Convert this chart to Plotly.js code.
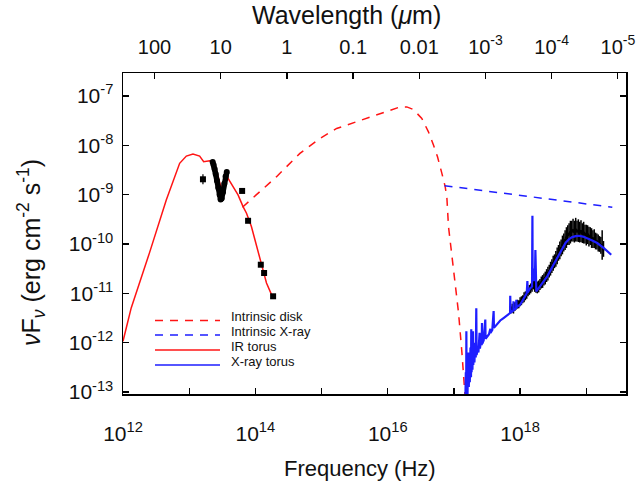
<!DOCTYPE html>
<html><head><meta charset="utf-8">
<script src="https://cdn.plot.ly/plotly-3.0.1.min.js"></script>
<style>body{margin:0;background:#fff}#chart{width:637px;height:488px}</style>
</head><body><div id="chart"></div>
<script>
// All values are log10(nu / Hz) and log10(nuFnu / erg cm^-2 s^-1)
const irTorusLogNu = [12.0, 12.124, 12.40, 12.654, 12.856, 12.957, 13.057, 13.158, 13.219, 13.31, 13.386, 13.48, 13.587, 13.663, 13.738, 13.814, 13.866, 13.94, 14.017, 14.093, 14.168, 14.244];
const irTorusLogF  = [-11.97, -11.295, -10.18, -9.107, -8.366, -8.218, -8.178, -8.218, -8.333, -8.313, -8.38, -8.85, -8.669, -8.838, -9.006, -9.242, -9.376, -9.646, -10.05, -10.455, -10.79, -11.026];

const diskLogNu = [13.805, 14.017, 14.32, 14.673, 14.774, 14.975, 15.228, 15.48, 15.733, 15.985, 16.187, 16.288, 16.388, 16.515, 16.615, 16.691, 16.752, 16.818, 16.868, 16.894, 16.918, 16.994, 17.07, 17.121, 17.16, 17.18];
const diskLogF  = [-9.255, -9.006, -8.636, -8.164, -8.063, -7.861, -7.659, -7.545, -7.424, -7.303, -7.222, -7.222, -7.275, -7.457, -7.727, -7.996, -8.232, -8.568, -8.838, -9.073, -9.646, -10.52, -11.396, -12.204, -12.945, -13.3];

const intrXLogNu = [16.858, 19.393];
const intrXLogF  = [-8.818, -9.255];

const xTorusLogNu = [17.17, 17.18, 17.185, 17.188, 17.192, 17.20, 17.205, 17.215, 17.22, 17.225, 17.235, 17.24, 17.25, 17.258, 17.262, 17.267, 17.275, 17.28, 17.288, 17.293, 17.30, 17.31, 17.32, 17.33, 17.338, 17.343, 17.36, 17.37, 17.38, 17.388, 17.393, 17.41, 17.42, 17.424, 17.429, 17.45, 17.474, 17.478, 17.50, 17.53, 17.55, 17.553, 17.58, 17.60, 17.605, 17.65, 17.70, 17.75, 17.80, 17.848, 17.851, 17.856, 17.898, 17.90, 17.905, 17.94, 17.943, 17.948, 18.0, 18.05, 18.10, 18.11, 18.115, 18.15, 18.18, 18.186, 18.19, 18.20, 18.21, 18.225, 18.231, 18.236, 18.245, 18.30, 18.35, 18.41, 18.50, 18.56, 18.62, 18.686, 18.74, 18.787, 18.84, 18.887, 18.95, 19.014, 19.09, 19.165, 19.266, 19.377];
const xTorusLogF  = [-13.4, -12.6, -13.3, -11.77, -13.2, -12.4, -13.1, -12.2, -12.34, -12.9, -12.3, -12.8, -12.1, -12.7, -11.73, -12.6, -12.0, -12.55, -11.77, -12.45, -12.1, -12.4, -12.0, -12.3, -11.30, -12.25, -12.1, -12.2, -12.0, -11.80, -12.12, -11.95, -12.05, -11.60, -12.02, -11.95, -11.53, -11.92, -11.87, -11.83, -11.72, -11.80, -11.74, -11.36, -11.70, -11.63, -11.55, -11.50, -11.45, -11.40, -11.05, -11.39, -11.35, -11.16, -11.34, -11.30, -11.13, -11.28, -11.23, -11.12, -11.00, -10.75, -10.98, -10.90, -10.86, -9.43, -10.70, -10.50, -10.75, -10.60, -10.12, -10.70, -10.96, -10.86, -10.76, -10.656, -10.43, -10.285, -10.12, -9.98, -9.90, -9.86, -9.84, -9.834, -9.85, -9.88, -9.93, -9.98, -10.083, -10.218];

// Black IR photometry (squares) and error half-widths in dex
const irPhotLogNu = [13.208, 13.80, 13.89, 14.082, 14.132, 14.268];
const irPhotLogF  = [-8.689, -8.925, -9.53, -10.42, -10.588, -11.06];
const irPhotErr   = [0.10, 0.04, 0.02, 0.02, 0.02, 0.02];

// Black IR spectrum (silicate feature)
const irSpecLogNu = [13.355, 13.37, 13.385, 13.40, 13.42, 13.44, 13.46, 13.475, 13.49, 13.51, 13.53, 13.55, 13.568];
const irSpecLogF  = [-8.34, -8.40, -8.48, -8.58, -8.72, -8.86, -9.00, -9.10, -9.08, -8.95, -8.78, -8.63, -8.54];

// Black X-ray spectrum and error half-widths in dex
const xrayLogNu = [17.86, 17.88, 17.90, 17.92, 17.94, 17.96, 17.98, 18.00, 18.02, 18.04, 18.06, 18.08, 18.10, 18.12, 18.14, 18.16, 18.18, 18.20, 18.22, 18.24, 18.26, 18.28, 18.30, 18.32, 18.34, 18.36, 18.38, 18.40, 18.42, 18.44, 18.46, 18.48, 18.50, 18.52, 18.54, 18.56, 18.58, 18.60, 18.62, 18.64, 18.66, 18.68, 18.70, 18.72, 18.74, 18.76, 18.78, 18.80, 18.82, 18.84, 18.86, 18.88, 18.90, 18.92, 18.94, 18.96, 18.98, 19.00, 19.02, 19.04, 19.06, 19.08, 19.10, 19.12, 19.14, 19.16, 19.18, 19.20, 19.22, 19.24, 19.26];
const xrayLogF  = [-11.33, -11.30, -11.33, -11.27, -11.25, -11.22, -11.22, -11.17, -11.15, -11.12, -11.08, -11.05, -11.01, -10.97, -10.93, -10.90, -10.86, -10.82, -10.85, -10.88, -10.88, -10.86, -10.82, -10.78, -10.76, -10.72, -10.69, -10.64, -10.60, -10.55, -10.50, -10.45, -10.39, -10.35, -10.30, -10.24, -10.18, -10.13, -10.08, -10.02, -9.97, -9.92, -9.87, -9.82, -9.80, -9.76, -9.74, -9.72, -9.75, -9.71, -9.74, -9.73, -9.76, -9.74, -9.78, -9.77, -9.80, -9.82, -9.81, -9.85, -9.84, -9.88, -9.90, -9.89, -9.94, -9.95, -9.98, -10.00, -10.03, -10.02, -10.10];
const xrayErr   = [0.08, 0.09, 0.08, 0.09, 0.08, 0.09, 0.08, 0.09, 0.09, 0.08, 0.10, 0.09, 0.10, 0.09, 0.10, 0.10, 0.11, 0.10, 0.12, 0.11, 0.12, 0.12, 0.11, 0.12, 0.13, 0.12, 0.13, 0.13, 0.14, 0.13, 0.14, 0.14, 0.15, 0.14, 0.16, 0.17, 0.16, 0.18, 0.17, 0.19, 0.18, 0.20, 0.21, 0.20, 0.22, 0.23, 0.21, 0.23, 0.22, 0.24, 0.21, 0.23, 0.21, 0.22, 0.20, 0.22, 0.19, 0.21, 0.19, 0.20, 0.18, 0.20, 0.18, 0.19, 0.17, 0.16, 0.17, 0.16, 0.17, 0.30, 0.16];

// Axis ticks
const freqTickExp = [12, 13, 14, 15, 16, 17, 18, 19];
const freqTickText = ['10<sup>12</sup>', ' ', '10<sup>14</sup>', ' ', '10<sup>16</sup>', ' ', '10<sup>18</sup>', ' '];
const waveTickMicron = [100, 10, 1, 0.1, 0.01, 1e-3, 1e-4, 1e-5];
const waveTickText = ['100', '10', '1', '0.1', '0.01', '10<sup>-3</sup>', '10<sup>-4</sup>', '10<sup>-5</sup>'];
const fluxTickExp = [-13, -12, -11, -10, -9, -8, -7];
const fluxTickText = ['10<sup>-13</sup>', '10<sup>-12</sup>', '10<sup>-11</sup>', '10<sup>-10</sup>', '10<sup>-9</sup>', '10<sup>-8</sup>', '10<sup>-7</sup>'];

const legendNames = ['Intrinsic disk', 'Intrinsic X-ray', 'IR torus', 'X-ray torus'];

const lin = a => a.map(v => Math.pow(10, v));
const errUp = (f, e) => f.map((v, i) => Math.pow(10, v) * (Math.pow(10, e[i]) - 1));
const errDn = (f, e) => f.map((v, i) => Math.pow(10, v) * (1 - Math.pow(10, -e[i])));
const C_MICRON = 2.998e14;

const RED = 'rgb(255,20,20)', BLUE = 'rgb(30,30,255)';
const DASH = '8px,7px';

const traces = [
  {x: lin(irTorusLogNu), y: lin(irTorusLogF), mode: 'lines', line: {color: RED, width: 1.5}, name: legendNames[2], showlegend: false},
  {x: lin(diskLogNu), y: lin(diskLogF), mode: 'lines', line: {color: RED, width: 1.5, dash: DASH}, name: legendNames[0], showlegend: false},
  {x: lin(intrXLogNu), y: lin(intrXLogF), mode: 'lines', line: {color: BLUE, width: 1.5, dash: DASH}, name: legendNames[1], showlegend: false},
  {x: lin(irSpecLogNu), y: lin(irSpecLogF), mode: 'lines+markers', line: {color: 'black', width: 5.5}, marker: {color: 'black', size: 6}, showlegend: false},
  {x: lin(irPhotLogNu), y: lin(irPhotLogF), mode: 'markers', marker: {symbol: 'square', size: 6, color: 'black'},
   error_y: {type: 'data', symmetric: false, array: errUp(irPhotLogF, irPhotErr), arrayminus: errDn(irPhotLogF, irPhotErr), color: 'black', thickness: 1.2, width: 0}, showlegend: false},
  {x: lin(xrayLogNu), y: lin(xrayLogF), mode: 'markers', marker: {size: 3, color: 'black'},
   error_y: {type: 'data', symmetric: false, array: errUp(xrayLogF, xrayErr), arrayminus: errDn(xrayLogF, xrayErr), color: 'black', thickness: 1.5, width: 0}, showlegend: false},
  {x: lin(xTorusLogNu), y: lin(xTorusLogF), mode: 'lines', line: {color: BLUE, width: 2.2}, name: legendNames[3], showlegend: false},
  {x: [], y: [], xaxis: 'x2', mode: 'lines', showlegend: false, hoverinfo: 'skip'}
];

const FONT = 'Liberation Sans, Arial, Helvetica, sans-serif';
const L = 123, R = 626, T = 73, B = 394;
const px = x => (x - L) / (R - L);
const py = y => (B - y) / (B - T);

const legendRows = [
  {y: 316, ly: 320.5, color: RED, dash: DASH},
  {y: 331, ly: 335, color: BLUE, dash: DASH},
  {y: 346, ly: 350, color: RED, dash: 'solid'},
  {y: 361, ly: 365, color: BLUE, dash: 'solid'}
];
const shapes = legendRows.map(r => ({type: 'line', xref: 'paper', yref: 'paper', x0: px(155), x1: px(220), y0: py(r.ly), y1: py(r.ly), line: {color: r.color, width: 1.5, dash: r.dash}}));
const annotations = legendRows.map((r, i) => ({xref: 'paper', yref: 'paper', x: px(229), y: py(r.y), xanchor: 'left', yanchor: 'middle', text: legendNames[i], showarrow: false, font: {family: FONT, size: 13, color: '#111'}}));
annotations.push({xref: 'paper', yref: 'paper', x: px(31), y: py(253), xanchor: 'center', yanchor: 'middle', textangle: -90, showarrow: false,
  text: '<i>ν</i>F<sub><i>ν</i></sub> (erg cm<sup>-2</sup> s<sup>-1</sup>)', font: {family: FONT, size: 25, color: '#111'}});
annotations.push({xref: 'paper', yref: 'paper', x: px(346), y: py(15), xanchor: 'center', yanchor: 'middle', showarrow: false,
  text: 'Wavelength (<i>μ</i>m)', font: {family: FONT, size: 25, color: '#111'}});
annotations.push({xref: 'paper', yref: 'paper', x: px(360), y: py(468), xanchor: 'center', yanchor: 'middle', showarrow: false,
  text: 'Frequency (Hz)', font: {family: FONT, size: 22, color: '#111'}});

const layout = {
  width: 637, height: 488,
  margin: {l: L, r: 637 - R, t: T, b: 488 - B, pad: 0},
  paper_bgcolor: 'white', plot_bgcolor: 'white',
  font: {family: FONT, color: '#111'},
  showlegend: false,
  xaxis: {type: 'log', range: [12, 19.6], tickvals: lin(freqTickExp), ticktext: freqTickText, ticks: 'inside', ticklen: 6, tickwidth: 1.3, tickcolor: 'black',
    showline: true, linecolor: 'black', linewidth: 1.5, mirror: false, showgrid: false, zeroline: false, ticklabelstandoff: 20,
    tickfont: {family: FONT, size: 21, color: '#111'}},
  xaxis2: {type: 'log', range: [12, 19.6], overlaying: 'x', side: 'top', anchor: 'y', tickvals: waveTickMicron.map(l => C_MICRON / l), ticktext: waveTickText,
    ticks: 'inside', ticklen: 6, tickwidth: 1.3, tickcolor: 'black', showline: true, linecolor: 'black', linewidth: 1.5, showgrid: false, zeroline: false,
    ticklabelstandoff: 10, tickfont: {family: FONT, size: 20, color: '#111'}},
  yaxis: {type: 'log', range: [-13.04, -6.535], tickvals: lin(fluxTickExp), ticktext: fluxTickText, ticks: 'inside', ticklen: 6, tickwidth: 1.3, tickcolor: 'black',
    showline: true, linecolor: 'black', linewidth: 1.5, mirror: 'ticks', showgrid: false, zeroline: false, ticklabelstandoff: 4,
    tickfont: {family: FONT, size: 21, color: '#111'}},
  shapes: shapes,
  annotations: annotations
};

Plotly.newPlot('chart', traces, layout, {displayModeBar: false, staticPlot: true});
</script></body></html>
